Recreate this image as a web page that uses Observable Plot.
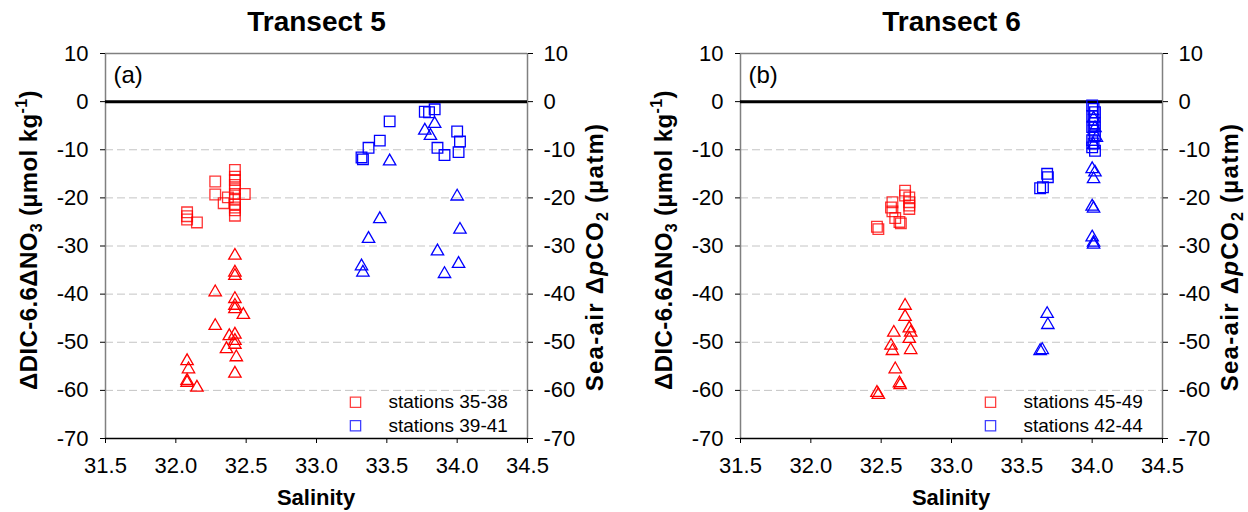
<!DOCTYPE html>
<html>
<head>
<meta charset="utf-8">
<script src="https://cdn.jsdelivr.net/npm/d3@7"></script>
<script src="https://cdn.jsdelivr.net/npm/@observablehq/plot@0.6"></script>
<style>
  body { margin: 0; background: #fff; }
  #row { display: flex; width: 1248px; height: 512px; overflow: hidden; }
  #row svg { flex: none; }
</style>
</head>
<body>
<div id="row"></div>
<script>
// ---------- data ----------
const yTicks = [-70, -60, -50, -40, -30, -20, -10, 0, 10];
const xTicks = [31.5, 32.0, 32.5, 33.0, 33.5, 34.0, 34.5];
const gridVals = [-60, -50, -40, -30, -20, -10];

// Transect 5 — stations 35-38 (red)
const t5RedSqSal = [32.08, 32.08, 32.08, 32.15, 32.28, 32.28, 32.37, 32.34, 32.42, 32.42, 32.42, 32.42, 32.42, 32.42, 32.42, 32.42, 32.42, 32.42, 32.42, 32.49];
const t5RedSqVal = [-23.0, -23.8, -24.5, -25.1, -16.6, -19.3, -19.9, -21.1, -14.2, -15.6, -16.3, -17.3, -18.2, -19.2, -20.2, -21.3, -22.0, -22.6, -23.7, -19.2];
const t5RedTriSal = [32.42, 32.42, 32.42, 32.28, 32.42, 32.42, 32.42, 32.48, 32.28, 32.38, 32.42, 32.42, 32.36, 32.42, 32.43, 32.42, 32.08, 32.09, 32.08, 32.08, 32.15];
const t5RedTriVal = [-32.0, -35.5, -36.2, -39.6, -41.0, -42.4, -43.1, -44.3, -46.6, -48.7, -48.4, -49.7, -51.4, -50.5, -53.1, -56.5, -53.9, -55.6, -58.0, -58.4, -59.4];
// Transect 5 — stations 39-41 (blue)
const t5BlueSqSal = [33.32, 33.33, 33.37, 33.45, 33.52, 33.77, 33.80, 33.84, 33.86, 33.91, 34.00, 34.02, 34.01];
const t5BlueSqVal = [-11.6, -12.0, -9.6, -8.1, -4.1, -2.1, -2.2, -1.6, -9.6, -11.1, -6.2, -8.3, -10.5];
const t5BlueTriSal = [33.84, 33.77, 33.81, 33.52, 34.00, 33.45, 34.02, 33.37, 33.86, 34.01, 33.32, 33.33, 33.91];
const t5BlueTriVal = [-4.6, -6.0, -7.1, -12.4, -19.7, -24.4, -26.6, -28.5, -31.1, -33.7, -34.2, -35.5, -35.8];

// Transect 6 — stations 45-49 (red)
const t6RedSqSal = [32.47, 32.48, 32.58, 32.57, 32.58, 32.60, 32.63, 32.64, 32.67, 32.67, 32.70, 32.70, 32.70, 32.70];
const t6RedSqVal = [-26.0, -26.5, -20.9, -22.0, -22.8, -24.2, -25.0, -25.3, -18.5, -19.5, -19.9, -20.9, -21.6, -22.3];
const t6RedTriSal = [32.67, 32.67, 32.70, 32.71, 32.70, 32.71, 32.59, 32.57, 32.58, 32.60, 32.63, 32.635, 32.47, 32.48];
const t6RedTriVal = [-42.4, -44.7, -47.1, -48.0, -49.3, -51.6, -48.0, -50.7, -51.8, -55.6, -58.5, -58.9, -60.5, -60.9];
// Transect 6 — stations 42-44 (blue)
const t6BlueSqSal = [33.68, 33.685, 33.63, 33.65, 34.00, 34.01, 34.02, 34.00, 34.01, 34.02, 34.00, 34.01, 34.02, 34.00, 34.01, 34.00, 34.02];
const t6BlueSqVal = [-15.0, -15.7, -18.0, -17.8, -0.8, -1.5, -2.2, -3.0, -3.8, -4.5, -5.3, -6.0, -7.0, -8.0, -8.7, -9.5, -10.2];
const t6BlueTriSal = [33.68, 33.685, 33.63, 33.645, 34.01, 34.02, 34.03, 34.01, 34.00, 34.02, 34.01, 34.00, 34.01, 34.00, 34.01, 34.01];
const t6BlueTriVal = [-44.1, -46.4, -51.8, -51.6, -3.5, -5.5, -7.5, -9.0, -14.0, -14.7, -16.1, -21.8, -22.2, -28.2, -29.3, -29.7];

const panels = [
  { title: "Transect 5", tag: "(a)", mL: 105, mR: 97,
    redSq: [t5RedSqSal, t5RedSqVal], redTri: [t5RedTriSal, t5RedTriVal],
    blueSq: [t5BlueSqSal, t5BlueSqVal], blueTri: [t5BlueTriSal, t5BlueTriVal],
    legend: ["stations 35-38", "stations 39-41"] },
  { title: "Transect 6", tag: "(b)", mL: 116, mR: 86,
    redSq: [t6RedSqSal, t6RedSqVal], redTri: [t6RedTriSal, t6RedTriVal],
    blueSq: [t6BlueSqSal, t6BlueSqVal], blueTri: [t6BlueTriSal, t6BlueTriVal],
    legend: ["stations 45-49", "stations 42-44"] }
];

// ---------- drawing ----------
const FONT = "'Liberation Sans', Arial, Helvetica, sans-serif";
const W = 624, H = 512, MT = 53, MB = 74;
const RED = "#ff0000", BLUE = "#0000ff";

function pts(pair, symbol, r, stroke, extra = {}) {
  const [xs, ys] = pair;
  return Plot.dot({length: xs.length}, {x: xs, y: ys, symbol, r, stroke, fill: "none", strokeWidth: 1.3, ...extra});
}

function makePanel(p) {
  const fmtY = d => String(d);
  const fmtX = d3.format(".1f");
  const svg = Plot.plot({
    width: W, height: H,
    marginLeft: p.mL, marginRight: p.mR, marginTop: MT, marginBottom: MB,
    x: {domain: [31.5, 34.5]},
    y: {domain: [-70, 10]},
    style: {fontFamily: FONT, fontSize: "22px", color: "#000", background: "#fff", overflow: "visible"},
    marks: [
      Plot.ruleY(gridVals, {stroke: "#c4c4c4", strokeDasharray: "8,4", strokeWidth: 1}),
      Plot.ruleY([10], {stroke: "#808080", strokeWidth: 1.5}),
      Plot.ruleX([31.5], {stroke: "#808080", strokeWidth: 1.5}),
      Plot.ruleX([34.5], {stroke: "#808080", strokeWidth: 1.5}),
      Plot.ruleY([-70], {stroke: "#000", strokeWidth: 1.5}),
      Plot.ruleY([0], {stroke: "#000", strokeWidth: 3}),
      Plot.axisY({anchor: "left", ticks: yTicks, tickFormat: fmtY, tickSize: 5, tickPadding: 12, label: null, fontSize: 22}),
      Plot.axisY({anchor: "right", ticks: yTicks, tickFormat: fmtY, tickSize: 5, tickPadding: 11, label: null, fontSize: 22}),
      Plot.axisX({anchor: "bottom", ticks: xTicks, tickFormat: fmtX, tickSize: 5, tickPadding: 14, label: null, fontSize: 22}),
      pts(p.redSq, "square", 6, RED, {strokeOpacity: 0.8}),
      pts(p.redTri, "triangle", 4.6, RED),
      pts(p.blueSq, "square", 6, BLUE),
      pts(p.blueTri, "triangle", 4.6, BLUE),
      Plot.text([p.title], {frameAnchor: "top", dy: -31, fontSize: 28, fontWeight: "bold", lineAnchor: "middle"}),
      Plot.text([p.tag], {frameAnchor: "top-left", dx: 8, dy: 22, fontSize: 24, textAnchor: "start", lineAnchor: "middle"}),
      Plot.dot([0], {frameAnchor: "bottom-left", dx: 250, dy: -36.3, symbol: "square", r: 5.8, stroke: "#ff4040", fill: "none", strokeWidth: 1.3}),
      Plot.dot([0], {frameAnchor: "bottom-left", dx: 250, dy: -12.7, symbol: "square", r: 5.8, stroke: "#4040ff", fill: "none", strokeWidth: 1.3}),
      Plot.text([p.legend[0]], {frameAnchor: "bottom-left", dx: 283, dy: -36.3, fontSize: 19, textAnchor: "start", lineAnchor: "middle"}),
      Plot.text([p.legend[1]], {frameAnchor: "bottom-left", dx: 283, dy: -12.7, fontSize: 19, textAnchor: "start", lineAnchor: "middle"})
    ]
  });

  // rich-text axis titles (subscripts / superscripts / italics)
  const s = d3.select(svg);
  const fl = p.mL, fr = W - p.mR, cx = (fl + fr) / 2;
  const lab = (x, y, ls) => s.append("text")
    .attr("transform", `translate(${x},${y}) rotate(-90)`)
    .attr("text-anchor", "middle").attr("font-weight", "bold").attr("font-size", 24)
    .attr("letter-spacing", ls).attr("fill", "#000");

  const L = lab(fl - 68, 240, 0.4);
  L.append("tspan").text("ΔDIC-6.6ΔNO");
  L.append("tspan").attr("font-size", 16).attr("dy", 5).text("3");
  L.append("tspan").attr("dy", -5).text(" (µmol kg");
  L.append("tspan").attr("font-size", 16).attr("dy", -10).text("-1");
  L.append("tspan").attr("dy", 10).text(")");

  const R = lab(fr + 76, 257, 1.3);
  R.append("tspan").text("Sea-air Δ");
  R.append("tspan").attr("font-style", "italic").text("p");
  R.append("tspan").text("CO");
  R.append("tspan").attr("font-size", 16).attr("dy", 5).text("2");
  R.append("tspan").attr("dy", -5).text(" (µatm)");

  s.append("text").attr("x", cx).attr("y", 505)
    .attr("text-anchor", "middle").attr("font-weight", "bold").attr("font-size", 22).attr("fill", "#000")
    .text("Salinity");

  return svg;
}

const row = document.getElementById("row");
for (const p of panels) row.appendChild(makePanel(p));
</script>
</body>
</html>
